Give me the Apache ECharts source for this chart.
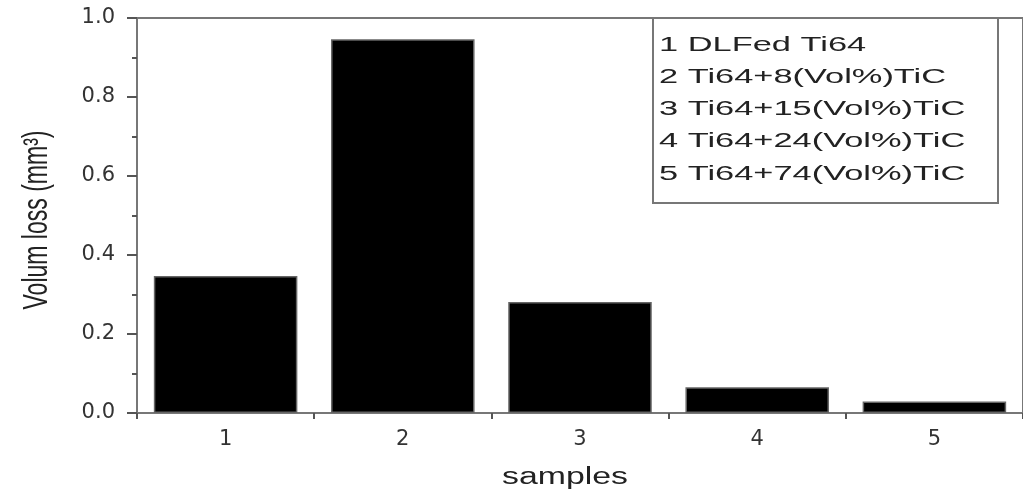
<!DOCTYPE html>
<html>
<head>
<meta charset="utf-8">
<script src="https://cdn.jsdelivr.net/npm/echarts@6/dist/echarts.min.js"></script>
<style>
  html, body { margin: 0; padding: 0; background: #fff; }
  #chart { width: 1023px; height: 496px; }
</style>
</head>
<body>
<div id="chart"></div>
<script>
  // data
  var samples = ['1', '2', '3', '4', '5'];
  var volumLoss = [0.347, 0.946, 0.281, 0.065, 0.029];
  var legendLines = [
    '1 DLFed Ti64',
    '2 Ti64+8(Vol%)TiC',
    '3 Ti64+15(Vol%)TiC',
    '4 Ti64+24(Vol%)TiC',
    '5 Ti64+74(Vol%)TiC'
  ];
  var xName = 'samples';
  var yName = 'Volum loss (mm³)';

  var chart = echarts.init(document.getElementById('chart'));
  var font = '"Liberation Sans", Arial, sans-serif';

  // the source picture is stretched sideways, so the texts get a scaleX
  var boxChildren = [{
    type: 'rect',
    shape: { x: 0, y: 0, width: 345, height: 185 },
    style: { fill: '#fff', stroke: '#777', lineWidth: 2 }
  }];
  legendLines.forEach(function (t, i) {
    boxChildren.push({
      type: 'text',
      x: 6, y: 27 + i * 32.3,
      scaleX: 1.72,
      style: {
        text: t, fill: '#222',
        font: '20px ' + font,
        verticalAlign: 'middle'
      }
    });
  });

  var option = {
    animation: false,
    textStyle: { fontFamily: font },
    grid: {
      left: 137, top: 18, width: 890, height: 395,
      show: true, borderColor: '#777', borderWidth: 2, backgroundColor: 'transparent'
    },
    xAxis: {
      type: 'category',
      data: samples,
      axisLine: { lineStyle: { color: '#777', width: 2 } },
      axisTick: { show: true, length: 6, lineStyle: { color: '#555', width: 2 } },
      axisLabel: { fontSize: 21, fontFamily: '"DejaVu Sans"', color: '#333', margin: 16 }
    },
    yAxis: {
      type: 'value',
      min: 0, max: 1.0, interval: 0.2,
      axisLine: { show: true, lineStyle: { color: '#777', width: 2 } },
      axisTick: { show: true, length: 10, lineStyle: { color: '#555', width: 2 } },
      minorTick: { show: true, splitNumber: 2, length: 5, lineStyle: { color: '#555', width: 2 } },
      splitLine: { show: false },
      axisLabel: {
        fontSize: 21, fontFamily: '"DejaVu Sans"', color: '#333', margin: 22,
        formatter: function (v) { return v.toFixed(1); }
      }
    },
    series: [{
      type: 'bar',
      data: volumLoss,
      barCategoryGap: '19%',
      itemStyle: { color: '#000', borderColor: '#666', borderWidth: 1.5 }
    }],
    graphic: [{
      type: 'group',
      left: 652, top: 17,
      children: boxChildren
    }, {
      type: 'text',
      x: 565, y: 478,
      scaleX: 1.47,
      style: {
        text: xName, fill: '#222', font: '23px ' + font,
        align: 'center', verticalAlign: 'middle'
      }
    }, {
      type: 'text',
      x: 37, y: 220,
      rotation: Math.PI / 2,
      scaleY: 1.5,
      style: {
        text: yName, fill: '#222', font: '23px ' + font,
        align: 'center', verticalAlign: 'middle'
      }
    }]
  };

  chart.setOption(option);
</script>
</body>
</html>
